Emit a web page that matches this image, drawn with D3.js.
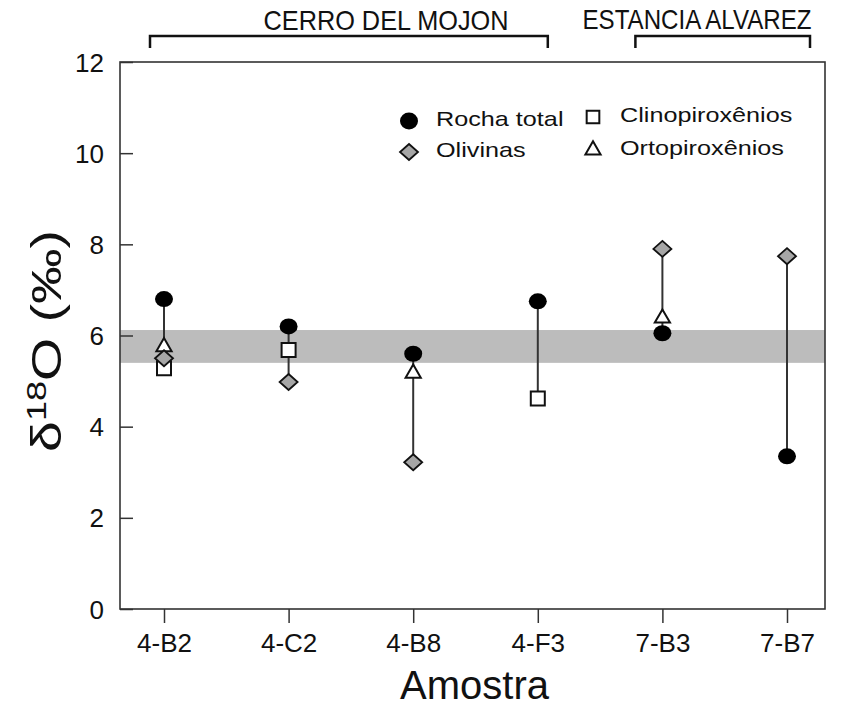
<!DOCTYPE html>
<html>
<head>
<meta charset="utf-8">
<script src="https://cdn.jsdelivr.net/npm/d3@7"></script>
<style>
    body { margin: 0; background: #fff; }
    svg text { font-family: "Liberation Sans", Arial, sans-serif; fill: #111; }
</style>
</head>
<body>
<div id="chart"></div>
<script>

// Sample names along the x axis.
const samples = ["4-B2", "4-C2", "4-B8", "4-F3", "7-B3", "7-B7"];

// d18O values per phase (null where not measured).
const rochaTotal      = [6.8, 6.2, 5.6, 6.75, 6.05, 3.35];
const olivinas        = [5.5, 4.98, 3.22, null, 7.9, 7.74];
const clinopiroxenios = [5.28, 5.68, null, 4.62, null, null];
const ortopiroxenios  = [5.75, null, 5.17, null, 6.38, null];

// Mantle reference band.
const mantleBand = [5.4, 6.12];

// Y ticks.
const yTicks = [0, 2, 4, 6, 8, 10, 12];

// Localities and the samples they span.
const groups = [
    {name: "CERRO DEL MOJON",   from: "4-B2", to: "4-F3"},
    {name: "ESTANCIA ALVAREZ",  from: "7-B3", to: "7-B7"}
];

const width = 861, height = 706;
const plot = {left: 120, right: 825, top: 62, bottom: 609};

let svg = d3.select("#chart").append("svg")
    .attr("width", width)
    .attr("height", height);

let x = d3.scalePoint()
    .domain(samples)
    .range([164, 787]);

let y = d3.scaleLinear()
    .domain([0, 12])
    .range([plot.bottom, plot.top]);

// stretch text horizontally to match the original's look
function stretch(sel, f) {
    sel.each(function() {
        let w = this.getComputedTextLength();
        d3.select(this)
            .attr("textLength", w * f)
            .attr("lengthAdjust", "spacingAndGlyphs");
    });
}

// Grey band
svg.append("rect")
    .attr("x", plot.left)
    .attr("y", y(mantleBand[1]))
    .attr("width", plot.right - plot.left)
    .attr("height", y(mantleBand[0]) - y(mantleBand[1]))
    .attr("fill", "#bcbcbc");

// Axes
let yAxis = svg.append("g")
    .attr("transform", "translate(" + plot.left + ",0)")
    .call(d3.axisLeft(y).tickValues(yTicks).tickSizeInner(-13).tickSizeOuter(0).tickPadding(16));

let xAxis = svg.append("g")
    .attr("transform", "translate(0," + plot.bottom + ")")
    .call(d3.axisBottom(x).tickSize(14).tickPadding(6));

[xAxis, yAxis].forEach(a => {
    a.select(".domain").remove();
    a.selectAll(".tick line").attr("stroke", "#333").attr("stroke-width", 1.5);
    a.selectAll("text")
        .attr("font-size", 26)
        .attr("font-family", "'Liberation Sans', Arial, sans-serif")
        .attr("fill", "#111");
});
yAxis.selectAll("text").attr("dy", "0.35em");
xAxis.selectAll("text").attr("dy", "0.9em");

// Frame
svg.append("rect")
    .attr("x", plot.left)
    .attr("y", plot.top)
    .attr("width", plot.right - plot.left)
    .attr("height", plot.bottom - plot.top)
    .attr("fill", "none")
    .attr("stroke", "#333")
    .attr("stroke-width", 1.6);

// Vertical range lines per sample
let ranges = samples.map((s, i) => {
    let vals = [rochaTotal[i], olivinas[i], clinopiroxenios[i], ortopiroxenios[i]]
        .filter(v => v != null);
    return {sample: s, min: d3.min(vals), max: d3.max(vals)};
});

svg.append("g")
    .selectAll("line")
    .data(ranges)
    .enter().append("line")
        .attr("x1", d => x(d.sample))
        .attr("x2", d => x(d.sample))
        .attr("y1", d => y(d.min))
        .attr("y2", d => y(d.max))
        .attr("stroke", "#333")
        .attr("stroke-width", 2);

// Marker shapes
const diamondPath = "M0,-8L9,0L0,8L-9,0Z";
const squarePath = d3.symbol().type(d3.symbolSquare).size(196)();
const trianglePath = d3.symbol().type(d3.symbolTriangle).size(100)();

function points(values) {
    return samples.map((s, i) => ({sample: s, value: values[i]}))
        .filter(d => d.value != null);
}

svg.append("g")
    .selectAll("path")
    .data(points(clinopiroxenios))
    .enter().append("path")
        .attr("d", squarePath)
        .attr("transform", d => "translate(" + x(d.sample) + "," + y(d.value) + ")")
        .attr("fill", "#fff")
        .attr("stroke", "#111")
        .attr("stroke-width", 2);

svg.append("g")
    .selectAll("path")
    .data(points(ortopiroxenios))
    .enter().append("path")
        .attr("d", trianglePath)
        .attr("transform", d => "translate(" + x(d.sample) + "," + y(d.value) + ")")
        .attr("fill", "#fff")
        .attr("stroke", "#111")
        .attr("stroke-width", 2);

svg.append("g")
    .selectAll("path")
    .data(points(olivinas))
    .enter().append("path")
        .attr("d", diamondPath)
        .attr("transform", d => "translate(" + x(d.sample) + "," + y(d.value) + ")")
        .attr("fill", "#a6a6a6")
        .attr("stroke", "#111")
        .attr("stroke-width", 1.8);

svg.append("g")
    .selectAll("ellipse")
    .data(points(rochaTotal))
    .enter().append("ellipse")
        .attr("cx", d => x(d.sample))
        .attr("cy", d => y(d.value))
        .attr("rx", 9)
        .attr("ry", 8)
        .attr("fill", "#000");

// Legend
let legend = svg.append("g");
const legendItems = [
    {label: "Rocha total",     x: 409, y: 121, kind: "circle"},
    {label: "Olivinas",        x: 409, y: 152, kind: "diamond"},
    {label: "Clinopiroxênios", x: 593, y: 117, kind: "square"},
    {label: "Ortopiroxênios",  x: 593, y: 150, kind: "triangle"}
];
legendItems.forEach(d => {
    let g = legend.append("g").attr("transform", "translate(" + d.x + "," + d.y + ")");
    if (d.kind == "circle") {
        g.append("ellipse").attr("rx", 9).attr("ry", 8.5).attr("fill", "#000");
    } else if (d.kind == "diamond") {
        g.append("path").attr("d", diamondPath).attr("fill", "#a6a6a6")
            .attr("stroke", "#111").attr("stroke-width", 1.8);
    } else if (d.kind == "square") {
        g.append("path").attr("d", d3.symbol().type(d3.symbolSquare).size(160)())
            .attr("fill", "#fff").attr("stroke", "#111").attr("stroke-width", 2);
    } else {
        g.append("path").attr("d", trianglePath)
            .attr("fill", "#fff").attr("stroke", "#111").attr("stroke-width", 2);
    }
    g.append("text")
        .attr("x", 27)
        .attr("y", 5)
        .attr("font-size", 21)
        .text(d.label)
        .call(stretch, 1.2);
});

// Locality brackets and names (bracket overhang differs per group)
const bracketPad = [[14, 10], [27, 23]];
groups.forEach((gr, i) => {
    let x0 = x(gr.from) - bracketPad[i][0], x1 = x(gr.to) + bracketPad[i][1];
    svg.append("path")
        .attr("d", "M" + x0 + ",48V36H" + x1 + "V48")
        .attr("fill", "none")
        .attr("stroke", "#111")
        .attr("stroke-width", 2.5);
});
svg.append("text")
    .attr("x", 386).attr("y", 30)
    .attr("text-anchor", "middle")
    .attr("font-size", 28)
    .attr("textLength", 245)
    .attr("lengthAdjust", "spacingAndGlyphs")
    .text(groups[0].name);
svg.append("text")
    .attr("x", 697).attr("y", 29)
    .attr("text-anchor", "middle")
    .attr("font-size", 28)
    .attr("textLength", 229)
    .attr("lengthAdjust", "spacingAndGlyphs")
    .text(groups[1].name);

// Axis titles
svg.append("text")
    .attr("x", (plot.left + plot.right) / 2 + 2)
    .attr("y", 699)
    .attr("text-anchor", "middle")
    .attr("font-size", 40)
    .text("Amostra");

let yl = svg.append("text")
    .attr("transform", "translate(61,341) rotate(-90)")
    .attr("text-anchor", "middle")
    .attr("font-size", 43)
    .attr("textLength", 222)
    .attr("lengthAdjust", "spacingAndGlyphs");
yl.append("tspan").text("δ");
yl.append("tspan").attr("font-size", 28).attr("dy", -15).text("18");
yl.append("tspan").attr("dy", 15).text("O (‰)");

</script>
</body>
</html>
